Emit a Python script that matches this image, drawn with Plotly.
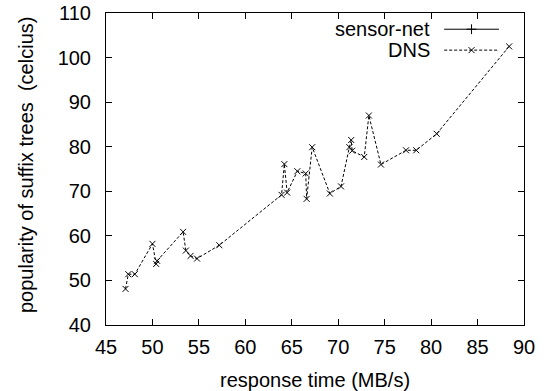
import plotly.graph_objects as go

# DNS series
dns_x = [47.1, 47.4, 48.1, 50.0, 50.4, 50.5, 53.3, 53.6, 54.1, 54.8, 57.2,
         63.9, 64.2, 64.5, 65.6, 66.5, 66.6, 67.2, 69.1, 70.3, 71.2, 71.4,
         71.5, 72.8, 73.3, 74.6, 77.3, 78.4, 80.6, 88.4]
dns_y = [48.1, 51.4, 51.4, 58.2, 53.7, 54.4, 60.9, 56.7, 55.5, 54.9, 57.9,
         69.2, 76.1, 69.7, 74.5, 74.0, 68.3, 79.9, 69.5, 71.1, 79.9, 81.5,
         79.1, 77.7, 87.0, 76.0, 79.2, 79.2, 82.9, 102.5]
# sensor-net series: no visible points
sensor_x = []
sensor_y = []

x_ticks = [45, 50, 55, 60, 65, 70, 75, 80, 85, 90]
y_ticks = [40, 50, 60, 70, 80, 90, 100, 110]

FONT = "Liberation Sans, Arial, Helvetica, sans-serif"
FS = 20

fig = go.Figure()
fig.add_trace(go.Scatter(x=sensor_x, y=sensor_y, mode="lines+markers",
                         line=dict(color="black", width=1),
                         marker=dict(symbol="cross-thin-open", size=7, color="black",
                                     line=dict(color="black", width=1)),
                         showlegend=False, name="sensor-net"))
fig.add_trace(go.Scatter(x=dns_x, y=dns_y, mode="lines+markers",
                         line=dict(color="black", width=1, dash="3px,2px"),
                         marker=dict(symbol="x-thin-open", size=6, color="black",
                                     line=dict(color="black", width=1)),
                         showlegend=False, name="DNS"))

# Legend (gnuplot style: text on left, sample on right) on an overlay axis
leg_names = ["sensor-net", "DNS"]
leg_y = [0.948, 0.881]
leg_x0, leg_x1, leg_xt = 0.809, 0.940, 0.780
styles = [dict(dash="solid", sym="cross-thin-open", size=7),
          dict(dash="3px,2px", sym="x-thin-open", size=6)]
for name, yy, st in zip(leg_names, leg_y, styles):
    fig.add_trace(go.Scatter(x=[leg_x0, leg_x1], y=[yy, yy], mode="lines",
                             line=dict(color="black", width=1, dash=st["dash"]),
                             xaxis="x2", yaxis="y2", showlegend=False,
                             hoverinfo="skip"))
    fig.add_trace(go.Scatter(x=[(leg_x0 + leg_x1) / 2], y=[yy], mode="markers",
                             marker=dict(symbol=st["sym"], size=st["size"], color="black",
                                         line=dict(color="black", width=1)),
                             xaxis="x2", yaxis="y2", showlegend=False,
                             hoverinfo="skip"))
    fig.add_annotation(x=leg_xt, y=yy, xref="x2", yref="y2", text=name,
                       showarrow=False, xanchor="right", yanchor="middle",
                       font=dict(family=FONT, size=FS, color="black"))

axis_common = dict(showgrid=False, zeroline=False, showline=True, mirror="ticks",
                   linecolor="black", linewidth=1, ticks="inside", ticklen=6,
                   tickcolor="black", tickwidth=1, automargin=False,
                   tickfont=dict(family=FONT, size=FS, color="black"))

fig.update_layout(
    width=546, height=391,
    margin=dict(l=106, r=22, t=13, b=66, pad=0),
    paper_bgcolor="white", plot_bgcolor="white",
    font=dict(family=FONT, size=FS, color="black"),
    xaxis=dict(range=[45, 90], tickvals=x_ticks, ticklabelstandoff=4,
               **axis_common),
    yaxis=dict(range=[40, 110], tickvals=y_ticks, ticklabelstandoff=10,
               **axis_common),
    xaxis2=dict(overlaying="x", range=[0, 1], visible=False),
    yaxis2=dict(overlaying="y", range=[0, 1], visible=False),
)

fig.add_annotation(x=0.5, y=(325 - 380) / 312, xref="paper", yref="paper",
                   text="response time (MB/s)", showarrow=False,
                   xanchor="center", yanchor="middle",
                   font=dict(family=FONT, size=FS, color="black"))
fig.add_annotation(x=(26 - 106) / 418, y=(325 - 165) / 312, xref="paper",
                   yref="paper", text="popularity of suffix trees  (celcius)",
                   showarrow=False, textangle=-90, xanchor="center",
                   yanchor="middle",
                   font=dict(family=FONT, size=FS, color="black"))

fig.write_html("out.html")
